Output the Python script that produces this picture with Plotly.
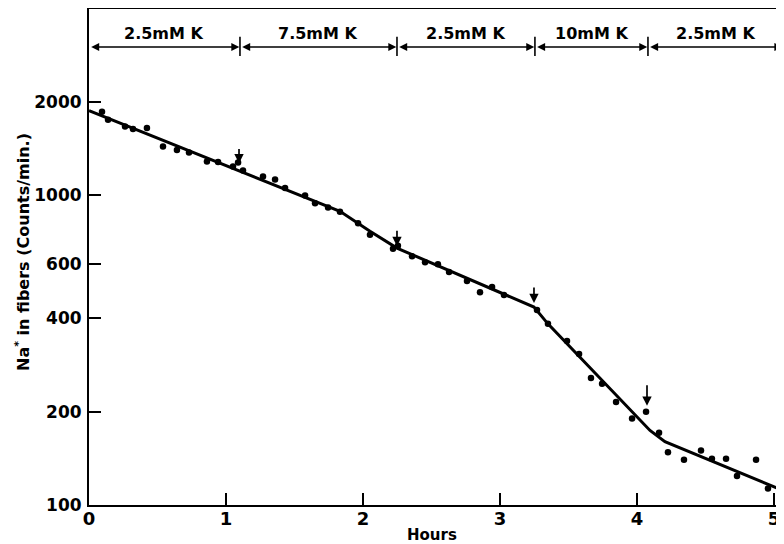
import math
import plotly.graph_objects as go

# ---- data ----
hours = [0.095, 0.139, 0.263, 0.321, 0.423, 0.540, 0.642, 0.730, 0.861, 0.942,
         1.051, 1.088, 1.124, 1.270, 1.358, 1.431, 1.577, 1.650, 1.745, 1.832,
         1.964, 2.051, 2.219, 2.255, 2.358, 2.453, 2.547, 2.628, 2.759, 2.854,
         2.942, 3.029, 3.270, 3.350, 3.489, 3.577, 3.664, 3.745, 3.847, 3.964,
         4.066, 4.161, 4.226, 4.343, 4.467, 4.547, 4.650, 4.730, 4.869, 4.956,
         5.044]
counts = [1857, 1750, 1662, 1632, 1644, 1433, 1396, 1371, 1282, 1277,
          1236, 1273, 1200, 1148, 1122, 1054, 997, 940, 912, 883,
          810, 744, 671, 686, 635, 607, 598, 564, 528, 486,
          505, 476, 426, 384, 338, 307, 257, 246, 215, 190,
          200, 171, 148, 140, 150, 141, 141, 124, 140, 113,
          111]

fit_hours = [0.0, 1.832, 2.051, 2.248, 3.248, 3.350, 4.095, 4.204, 5.073]
fit_counts = [1870, 886, 764, 674, 435, 384, 174, 160, 111]

boundaries = [0.0, 1.102, 2.248, 3.255, 4.080, 5.066]
conditions = ["2.5mM K", "7.5mM K", "2.5mM K", "10mM K", "2.5mM K"]

arrow_hours = [1.095, 2.248, 3.248, 4.073]
arrow_counts = [1264, 684, 448, 209]

y_ticks = [100, 200, 400, 600, 1000, 2000]
x_ticks = [0, 1, 2, 3, 4, 5]

# ---- figure ----
FONT = "DejaVu Sans"
Y_LOG_RANGE = [2, 3.6]
PLOT_H = 496  # plot-area height in px

fig = go.Figure()
fig.add_trace(go.Scatter(x=fit_hours, y=fit_counts, mode="lines",
                         line=dict(color="black", width=3), hoverinfo="skip"))
fig.add_trace(go.Scatter(x=hours, y=counts, mode="markers",
                         marker=dict(color="black", size=6.5)))

def ylog_at_paper(p):
    return Y_LOG_RANGE[0] + p * (Y_LOG_RANGE[1] - Y_LOG_RANGE[0])

arrow_line_log = ylog_at_paper(0.9234)
label_log = ylog_at_paper(0.9516)

annotations = []
shapes = []
for i, cond in enumerate(conditions):
    a, b = boundaries[i], boundaries[i + 1]
    annotations.append(dict(x=b - 0.005, y=arrow_line_log, xref="x", yref="y",
                            ax=a + 0.005, ay=arrow_line_log, axref="x", ayref="y",
                            text="", showarrow=True, arrowside="end+start",
                            arrowhead=2, startarrowhead=2, arrowsize=1.0,
                            startarrowsize=1.0, arrowwidth=1.6, arrowcolor="black",
                            standoff=0, startstandoff=0))
    annotations.append(dict(x=(a + b) / 2, y=label_log, xref="x", yref="y",
                            text=cond, showarrow=False,
                            font=dict(family=FONT, size=16, color="black", weight="bold")))
for b in boundaries[1:-1]:
    shapes.append(dict(type="line", xref="x", yref="paper", x0=b, x1=b,
                       y0=0.905, y1=0.944, line=dict(color="black", width=1.6)))

arrow_len = [-16, -17, -17, -22]
for h, c, L in zip(arrow_hours, arrow_counts, arrow_len):
    annotations.append(dict(x=h, y=math.log10(c), xref="x", yref="y",
                            ax=0, ay=L, text="", showarrow=True,
                            arrowhead=2, arrowsize=1.1, arrowwidth=1.7,
                            arrowcolor="black", standoff=0))

# axis titles
annotations.append(dict(x=(432 - 89) / 695, y=-30 / PLOT_H, xref="paper", yref="paper",
                        text="Hours", showarrow=False, xanchor="center", yanchor="middle",
                        font=dict(family=FONT, size=15, color="black", weight="bold")))
annotations.append(dict(x=(23 - 89) / 695, y=(505 - 252) / PLOT_H, xref="paper", yref="paper",
                        text="Na<sup>*</sup> in fibers (Counts/min.)", showarrow=False,
                        textangle=-90, xanchor="center", yanchor="middle",
                        font=dict(family=FONT, size=16, color="black", weight="bold")))

# margins compensate for the page's default 8px body margin
fig.update_layout(
    width=784, height=544,
    margin=dict(l=81, r=8, t=1, b=47),
    paper_bgcolor="white", plot_bgcolor="white",
    showlegend=False,
    font=dict(family=FONT, size=17, color="black", weight="bold"),
    annotations=annotations, shapes=shapes,
    xaxis=dict(range=[0, 5.073], tickvals=x_ticks, ticktext=[str(t) for t in x_ticks],
               ticks="inside", ticklen=12, tickwidth=1.6, tickcolor="black",
               showline=True, linecolor="black", linewidth=2, mirror=True,
               showgrid=False, zeroline=False, automargin=False,
               ticklabelstandoff=-4, tickfont=dict(size=18)),
    yaxis=dict(type="log", range=Y_LOG_RANGE, tickvals=y_ticks,
               ticktext=[str(t) for t in y_ticks],
               ticks="inside", ticklen=12, tickwidth=1.6, tickcolor="black",
               showline=True, linecolor="black", linewidth=2,
               showgrid=False, zeroline=False, automargin=False,
               ticklabelstandoff=2, tickfont=dict(size=17)),
)

fig.write_html("out.html")
